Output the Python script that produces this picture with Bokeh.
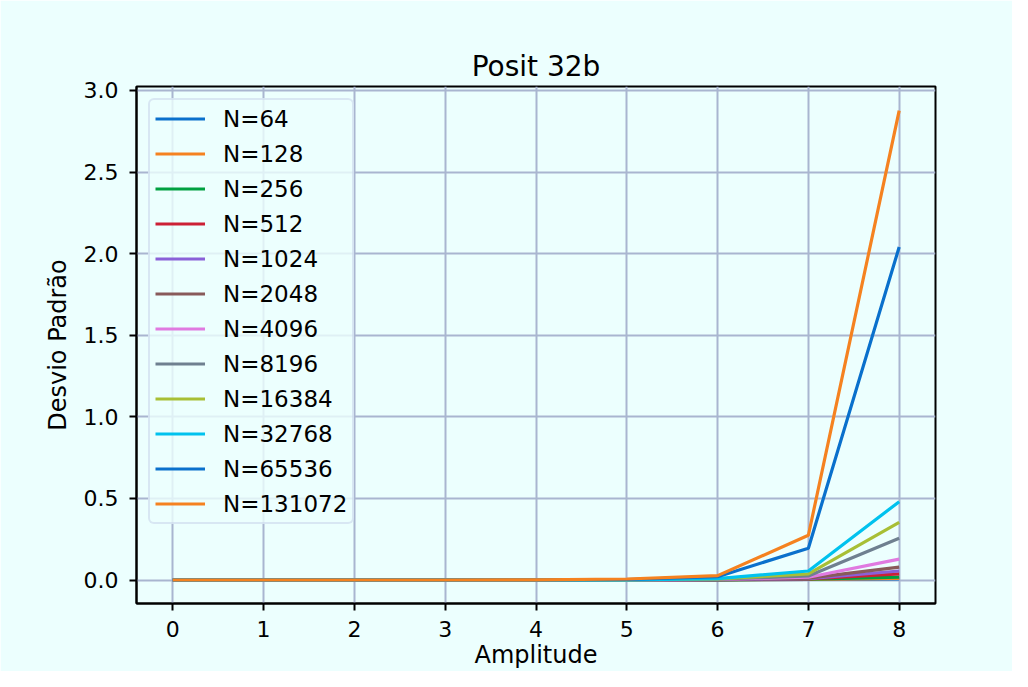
from bokeh.plotting import figure
from bokeh.models import Legend, LegendItem, FixedTicker, NumeralTickFormatter, Range1d
from bokeh.embed import file_html
from bokeh.resources import INLINE

amplitude = [0, 1, 2, 3, 4, 5, 6, 7, 8]
labels = ["N=64", "N=128", "N=256", "N=512", "N=1024", "N=2048", "N=4096",
          "N=8196", "N=16384", "N=32768", "N=65536", "N=131072"]
s64 = [0, 0, 0, 0, 0, 0, 0.001, 0.003, 0.006]
s128 = [0, 0, 0, 0, 0, 0, 0.001, 0.004, 0.010]
s256 = [0, 0, 0, 0, 0, 0, 0.001, 0.005, 0.018]
s512 = [0, 0, 0, 0, 0, 0, 0.002, 0.007, 0.037]
s1024 = [0, 0, 0, 0, 0, 0, 0.002, 0.009, 0.055]
s2048 = [0, 0, 0, 0, 0, 0, 0.003, 0.012, 0.079]
s4096 = [0, 0, 0, 0, 0, 0.001, 0.004, 0.017, 0.128]
s8196 = [0, 0, 0, 0, 0, 0.001, 0.005, 0.025, 0.256]
s16384 = [0, 0, 0, 0, 0, 0.001, 0.007, 0.037, 0.353]
s32768 = [0, 0, 0, 0, 0, 0.001, 0.009, 0.055, 0.480]
s65536 = [0, 0, 0, 0, 0, 0.003, 0.020, 0.195, 2.040]
s131072 = [0, 0, 0, 0, 0.001, 0.006, 0.027, 0.274, 2.876]
series = [s64, s128, s256, s512, s1024, s2048, s4096, s8196, s16384, s32768, s65536, s131072]
colors = ["#0a70cc", "#f58220", "#00a040", "#cc2035", "#8a60d8", "#885a5a",
          "#e07ae0", "#6f8090", "#a8bf35", "#00c2ee", "#0a70cc", "#f58220"]
y_ticks = [0.0, 0.5, 1.0, 1.5, 2.0, 2.5, 3.0]

BG = "#ecfffe"
GRID = "#a9b5d0"
FONT = "DejaVu Sans"

p = figure(width=1012, height=671, output_backend="svg", toolbar_location=None,
           title="Posit 32b", x_range=Range1d(-0.4, 8.4), y_range=Range1d(-0.144, 3.024),
           min_border_left=136, min_border_right=77, min_border_top=86, min_border_bottom=60)
p.background_fill_color = BG
p.border_fill_color = BG
p.outline_line_color = "black"
p.outline_line_width = 2

p.title.align = "center"
p.title.text_font = FONT
p.title.text_font_size = "28px"
p.title.text_font_style = "normal"
p.title.text_color = "black"
p.title.standoff = 8

for ax in (p.xaxis[0], p.yaxis[0]):
    ax.axis_line_color = "black"
    ax.axis_line_width = 2
    ax.major_tick_line_color = "black"
    ax.major_tick_line_width = 2
    ax.major_tick_in = 0
    ax.major_tick_out = 7
    ax.minor_tick_line_color = None
    ax.major_label_text_font = FONT
    ax.major_label_text_font_size = "22px"
    ax.major_label_text_color = "black"
    ax.axis_label_text_font = FONT
    ax.axis_label_text_font_size = "24px"
    ax.axis_label_text_font_style = "normal"
    ax.axis_label_text_color = "black"

p.xaxis.ticker = FixedTicker(ticks=amplitude)
p.yaxis.ticker = FixedTicker(ticks=y_ticks)
p.yaxis.formatter = NumeralTickFormatter(format="0.0")
p.xaxis.axis_label = "Amplitude"
p.yaxis.axis_label = "Desvio Padrão"
p.xaxis.major_label_standoff = 10
p.yaxis.major_label_standoff = 11
p.xaxis.axis_label_standoff = 1
p.yaxis.axis_label_standoff = 9

p.grid.grid_line_color = GRID
p.grid.grid_line_width = 2

items = []
for lab, ys, c in zip(labels, series, colors):
    r = p.line(amplitude, ys, line_color=c, line_width=3.2)
    items.append(LegendItem(label=lab, renderers=[r]))

legend = Legend(items=items, location="top_left")
legend.margin = 12
legend.padding = 5
legend.spacing = 8
legend.label_height = 27
legend.glyph_height = 27
legend.glyph_width = 50
legend.label_standoff = 18
legend.label_text_font = FONT
legend.label_text_font_size = "23px"
legend.label_text_color = "black"
legend.background_fill_color = BG
legend.background_fill_alpha = 0.8
legend.border_line_color = "#c5d0ea"
legend.border_line_width = 2
legend.border_radius = 6
p.add_layout(legend)

open("out.html", "w").write(file_html(p, INLINE))
